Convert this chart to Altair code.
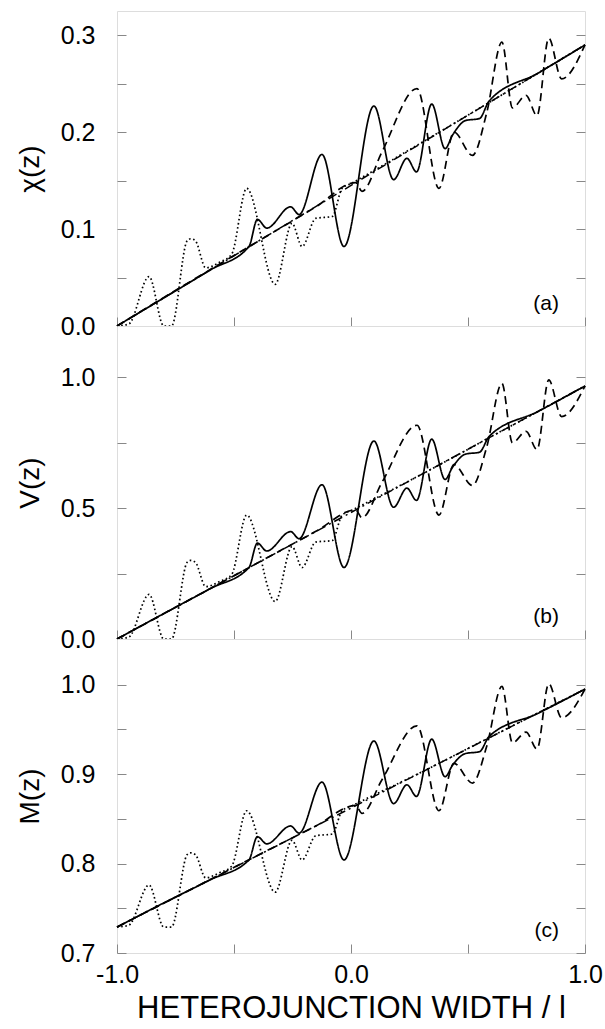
import altair as alt
import pandas as pd

FONT = "Liberation Sans"

# ---- shared x positions (heterojunction width / l) ----
X_SOLID = [-1.0, -0.8, -0.6, -0.436, -0.40, -0.36, -0.258, -0.222, -0.124, -0.03, 0.098,
           0.182, 0.239, 0.28, 0.345, 0.402, 0.434, 0.49, 0.549, 0.59, 0.8, 1.0]
X_DOTTED = [-1.0, -0.95, -0.863, -0.80, -0.767, -0.70, -0.685, -0.665, -0.621, -0.56,
            -0.51, -0.446, -0.324, -0.252, -0.209, -0.151, -0.08, -0.038, 0.0, 0.3, 0.6, 1.0]
X_DASHED = [-1.0, -0.7, -0.4, -0.15, 0.02, 0.047, 0.133, 0.282, 0.376, 0.44, 0.519, 0.58,
            0.645, 0.69, 0.748, 0.795, 0.845, 0.90, 1.0]
X_DASHDOT = [-1.0, 1.0]

# ---- panel (a): chi(z) ----
CHI_SOLID = [0.0, 0.029, 0.058, 0.082, 0.110, 0.101, 0.123, 0.115, 0.177, 0.082, 0.227,
             0.151, 0.173, 0.159, 0.229, 0.183, 0.197, 0.212, 0.214, 0.232, 0.261, 0.29]
CHI_DOTTED = [0.0, 0.002, 0.051, 0.0, 0.0, 0.088, 0.090, 0.088, 0.060, 0.066,
              0.074, 0.142, 0.043, 0.106, 0.082, 0.111, 0.113, 0.142, 0.147, 0.189, 0.232, 0.29]
CHI_DASHED = [0.0, 0.044, 0.087, 0.123, 0.148, 0.139, 0.18, 0.245, 0.142, 0.200, 0.176,
              0.22, 0.293, 0.225, 0.238, 0.217, 0.297, 0.255, 0.29]
CHI_DASHDOT = [0.0, 0.29]

# ---- panel (b): V(z) ----
V_SOLID = [0.0, 0.097, 0.193, 0.273, 0.366, 0.336, 0.410, 0.383, 0.589, 0.273, 0.756,
           0.503, 0.576, 0.529, 0.763, 0.609, 0.656, 0.706, 0.713, 0.773, 0.869, 0.966]
V_DOTTED = [0.0, 0.007, 0.170, 0.0, 0.0, 0.293, 0.300, 0.293, 0.200, 0.220,
            0.246, 0.473, 0.143, 0.353, 0.273, 0.370, 0.376, 0.473, 0.490, 0.628, 0.773, 0.966]
V_DASHED = [0.0, 0.145, 0.290, 0.411, 0.493, 0.463, 0.599, 0.816, 0.473, 0.666, 0.586,
            0.733, 0.976, 0.749, 0.793, 0.723, 0.989, 0.849, 0.966]
V_DASHDOT = [0.0, 0.966]

# ---- panel (c): M(z) ----
M_SOLID = [0.729, 0.756, 0.782, 0.804, 0.830, 0.822, 0.842, 0.834, 0.891, 0.804, 0.937,
           0.867, 0.888, 0.875, 0.939, 0.897, 0.910, 0.923, 0.925, 0.942, 0.968, 0.995]
M_DOTTED = [0.729, 0.731, 0.776, 0.729, 0.729, 0.810, 0.812, 0.810, 0.784, 0.790,
            0.797, 0.859, 0.768, 0.826, 0.804, 0.831, 0.833, 0.859, 0.864, 0.902, 0.942, 0.995]
M_DASHED = [0.729, 0.769, 0.809, 0.842, 0.865, 0.856, 0.894, 0.954, 0.859, 0.912, 0.890,
            0.931, 0.998, 0.935, 0.947, 0.928, 1.001, 0.963, 0.995]
M_DASHDOT = [0.729, 0.995]

# ---- axes ----
X_TICKS = [-1.0, -0.5, 0.0, 0.5, 1.0]
X_LABELS = ["-1.0", "", "0.0", "", "1.0"]
X_TITLE = "HETEROJUNCTION WIDTH / l"

A_TICKS = [0.0, 0.05, 0.1, 0.15, 0.2, 0.25, 0.3]
A_LABELS = ["0.0", "", "0.1", "", "0.2", "", "0.3"]
B_TICKS = [0.0, 0.25, 0.5, 0.75, 1.0]
B_LABELS = ["0.0", "", "0.5", "", "1.0"]
C_TICKS = [0.7, 0.75, 0.8, 0.85, 0.9, 0.95, 1.0]
C_LABELS = ["0.7", "", "0.8", "", "0.9", "", "1.0"]

SERIES = ["solid", "dotted", "dashed"]
DASHES = [[1, 0], [1.6, 2.6], [8, 5]]

W = 468


def label_expr(ticks, labels):
    t = ",".join(repr(v) for v in ticks)
    l = ",".join("'%s'" % s for s in labels)
    return "[%s][indexof([%s], datum.value)]" % (l, t)


def panel(ys, dd, ytitle, domain, ticks, labels, tag, height, bottom):
    frames = []
    for name, xs, yv in zip(SERIES, [X_SOLID, X_DOTTED, X_DASHED], ys):
        frames.append(pd.DataFrame({"x": xs, "y": yv, "series": name}))
    df = pd.concat(frames, ignore_index=True)
    df_dd = pd.DataFrame({"x": X_DASHDOT, "y": dd})

    xscale = alt.Scale(domain=[-1.0, 1.0], nice=False, zero=False)
    yscale = alt.Scale(domain=domain, nice=False, zero=False)

    if bottom:
        x_axis = alt.Axis(values=X_TICKS, labelExpr=label_expr(X_TICKS, X_LABELS),
                          orient="bottom", offset=-9, tickSize=9, domain=False, grid=False,
                          labelFlush=False, labelOverlap=False, labelPadding=9,
                          labelFontSize=25, title=X_TITLE, titleFontSize=31,
                          titleFontWeight="normal", titlePadding=6)
    else:
        x_axis = alt.Axis(values=X_TICKS, labels=False, orient="bottom", offset=-9,
                          tickSize=9, domain=False, grid=False, title=None)

    y_left = alt.Axis(values=ticks, labelExpr=label_expr(ticks, labels), orient="left",
                      offset=-9, tickSize=9, domain=False, grid=False, labelFlush=False,
                      labelOverlap=False, labelPadding=22, labelFontSize=25,
                      title=ytitle, titleFontSize=28, titleFontWeight="normal",
                      titlePadding=16)
    y_right = alt.Axis(values=ticks, labels=False, orient="right", offset=-9, tickSize=9,
                       domain=False, grid=False, title=None)

    x_enc = alt.X("x:Q", scale=xscale, axis=x_axis)

    lines = alt.Chart(df).mark_line(interpolate="monotone", color="black",
                                    strokeWidth=1.7).encode(
        x=x_enc,
        y=alt.Y("y:Q", scale=yscale, axis=y_left),
        strokeDash=alt.StrokeDash("series:N",
                                  scale=alt.Scale(domain=SERIES, range=DASHES),
                                  legend=None),
        detail="series:N",
    )
    dashdot = alt.Chart(df_dd).mark_line(color="black", strokeWidth=1.5,
                                         strokeDash=[9, 4, 2, 4]).encode(
        x=x_enc,
        y=alt.Y("y:Q", scale=yscale, axis=y_right),
    )
    tag_layer = alt.Chart(pd.DataFrame({"t": [tag]})).mark_text(
        align="right", baseline="middle", fontSize=21, font=FONT, color="black"
    ).encode(x=alt.value(W - 26), y=alt.value(height - 22), text="t:N")

    return alt.layer(lines, dashdot, tag_layer).resolve_axis(y="independent").properties(
        width=W, height=height)


pa = panel([CHI_SOLID, CHI_DOTTED, CHI_DASHED], CHI_DASHDOT, "χ(z)", [0.0, 0.325],
           A_TICKS, A_LABELS, "(a)", 315, False)
pb = panel([V_SOLID, V_DOTTED, V_DASHED], V_DASHDOT, "V(z)", [0.0, 1.195],
           B_TICKS, B_LABELS, "(b)", 313, False)
pc = panel([M_SOLID, M_DOTTED, M_DASHED], M_DASHDOT, "M(z)", [0.7, 1.051],
           C_TICKS, C_LABELS, "(c)", 314, True)

chart = alt.vconcat(pa, pb, pc, spacing=0, bounds="flush").properties(
    padding={"left": 15, "top": 10, "right": 1, "bottom": 2}
).configure_view(stroke="black", strokeWidth=2).configure_axis(
    labelFont=FONT, titleFont=FONT, labelColor="black", titleColor="black",
    titleFontWeight="normal", tickColor="black", tickWidth=1.5
).configure(background="white")

chart.save("out.html", embed_options={"renderer": "svg", "actions": False})
